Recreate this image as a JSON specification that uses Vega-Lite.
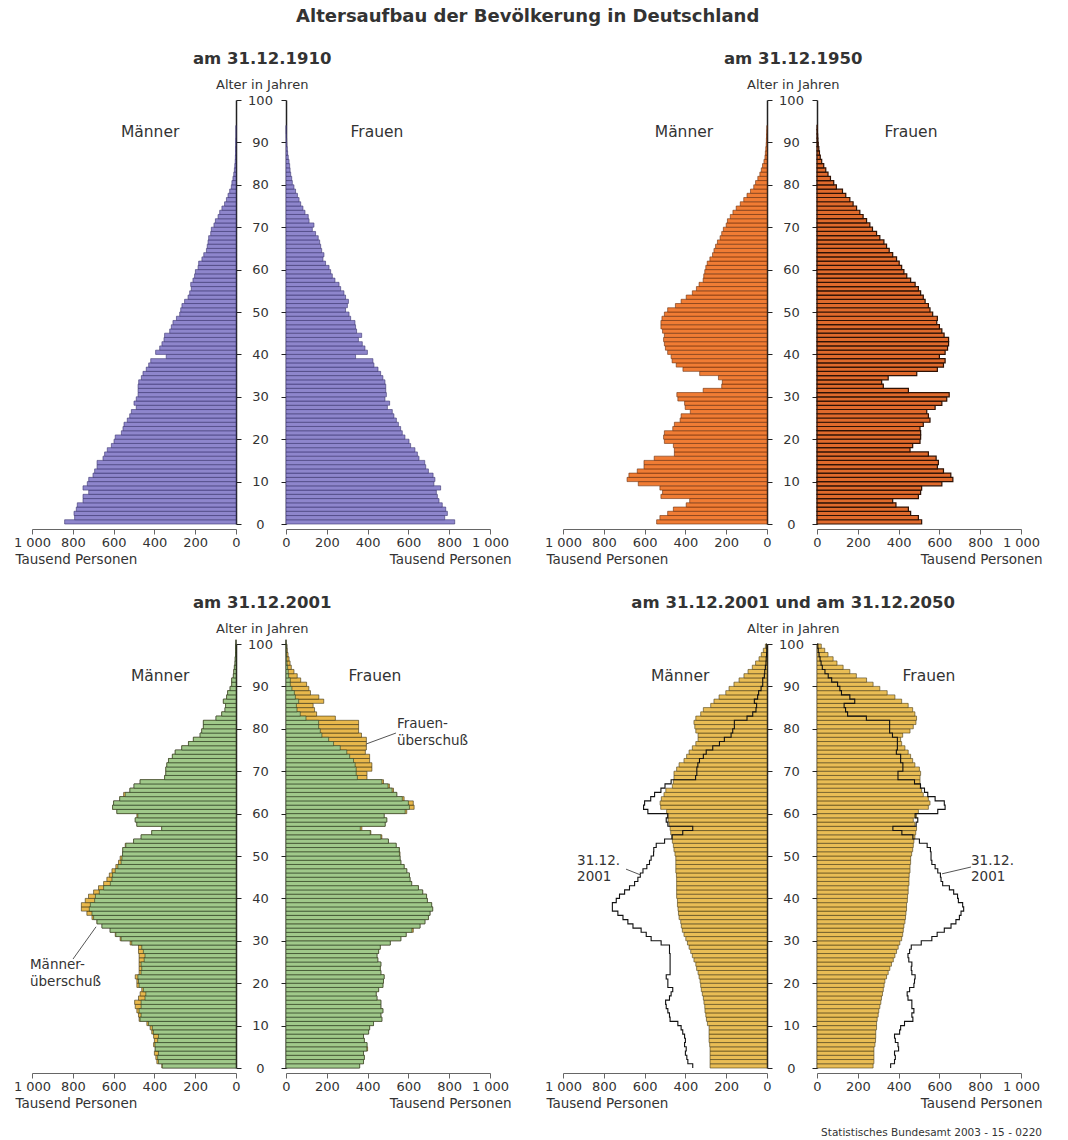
{
"$schema": "https://vega.github.io/schema/vega-lite/v6.json",
"padding": {"left": 13, "top": 7, "right": 5, "bottom": 5},
"title": {"text": "Altersaufbau der Bevölkerung in Deutschland", "fontSize": 18, "fontWeight": "bold", "anchor": "middle", "offset": 25, "color": "#333"},
"datasets": {
"d1910": [{"a":0,"m":840,"f":827},{"a":1,"m":791,"f":778},{"a":2,"m":794,"f":791},{"a":3,"m":783,"f":783},{"a":4,"m":778,"f":766},{"a":5,"m":750,"f":750},{"a":6,"m":750,"f":742},{"a":7,"m":722,"f":737},{"a":8,"m":750,"f":758},{"a":9,"m":729,"f":725},{"a":10,"m":722,"f":730},{"a":11,"m":701,"f":721},{"a":12,"m":693,"f":698},{"a":13,"m":681,"f":685},{"a":14,"m":681,"f":680},{"a":15,"m":652,"f":652},{"a":16,"m":644,"f":644},{"a":17,"m":631,"f":632},{"a":18,"m":611,"f":611},{"a":19,"m":598,"f":603},{"a":20,"m":592,"f":583},{"a":21,"m":562,"f":570},{"a":22,"m":554,"f":562},{"a":23,"m":549,"f":551},{"a":24,"m":533,"f":541},{"a":25,"m":521,"f":529},{"a":26,"m":513,"f":521},{"a":27,"m":489,"f":497},{"a":28,"m":500,"f":508},{"a":29,"m":489,"f":485},{"a":30,"m":480,"f":492},{"a":31,"m":480,"f":489},{"a":32,"m":480,"f":489},{"a":33,"m":477,"f":485},{"a":34,"m":464,"f":475},{"a":35,"m":456,"f":464},{"a":36,"m":440,"f":451},{"a":37,"m":428,"f":431},{"a":38,"m":418,"f":426},{"a":39,"m":342,"f":341},{"a":40,"m":394,"f":399},{"a":41,"m":374,"f":387},{"a":42,"m":363,"f":374},{"a":43,"m":353,"f":355},{"a":44,"m":350,"f":371},{"a":45,"m":325,"f":346},{"a":46,"m":317,"f":341},{"a":47,"m":309,"f":338},{"a":48,"m":292,"f":317},{"a":49,"m":276,"f":309},{"a":50,"m":271,"f":292},{"a":51,"m":265,"f":301},{"a":52,"m":252,"f":306},{"a":53,"m":235,"f":292},{"a":54,"m":227,"f":284},{"a":55,"m":219,"f":268},{"a":56,"m":222,"f":260},{"a":57,"m":211,"f":240},{"a":58,"m":203,"f":227},{"a":59,"m":199,"f":219},{"a":60,"m":186,"f":211},{"a":61,"m":183,"f":194},{"a":62,"m":167,"f":181},{"a":63,"m":158,"f":186},{"a":64,"m":145,"f":175},{"a":65,"m":141,"f":170},{"a":66,"m":137,"f":165},{"a":67,"m":134,"f":158},{"a":68,"m":124,"f":145},{"a":69,"m":121,"f":129},{"a":70,"m":108,"f":137},{"a":71,"m":101,"f":113},{"a":72,"m":88,"f":109},{"a":73,"m":80,"f":93},{"a":74,"m":69,"f":83},{"a":75,"m":56,"f":72},{"a":76,"m":47,"f":64},{"a":77,"m":39,"f":56},{"a":78,"m":31,"f":47},{"a":79,"m":23,"f":39},{"a":80,"m":20,"f":31},{"a":81,"m":15,"f":28},{"a":82,"m":11,"f":23},{"a":83,"m":8,"f":20},{"a":84,"m":6,"f":18},{"a":85,"m":4,"f":15},{"a":86,"m":3,"f":11},{"a":87,"m":2,"f":8},{"a":88,"m":2,"f":6},{"a":89,"m":1,"f":4},{"a":90,"m":1,"f":3},{"a":91,"m":0,"f":2},{"a":92,"m":0,"f":1},{"a":93,"m":0,"f":1}],
"d1950": [{"a":0,"m":541,"f":513},{"a":1,"m":525,"f":497},{"a":2,"m":487,"f":459},{"a":3,"m":459,"f":448},{"a":4,"m":396,"f":387},{"a":5,"m":379,"f":371},{"a":6,"m":520,"f":497},{"a":7,"m":512,"f":508},{"a":8,"m":525,"f":513},{"a":9,"m":631,"f":612},{"a":10,"m":686,"f":666},{"a":11,"m":677,"f":656},{"a":12,"m":636,"f":620},{"a":13,"m":603,"f":590},{"a":14,"m":603,"f":595},{"a":15,"m":553,"f":584},{"a":16,"m":454,"f":546},{"a":17,"m":454,"f":456},{"a":18,"m":459,"f":469},{"a":19,"m":503,"f":505},{"a":20,"m":507,"f":508},{"a":21,"m":503,"f":508},{"a":22,"m":462,"f":505},{"a":23,"m":454,"f":521},{"a":24,"m":426,"f":554},{"a":25,"m":421,"f":546},{"a":26,"m":376,"f":538},{"a":27,"m":401,"f":579},{"a":28,"m":404,"f":612},{"a":29,"m":437,"f":636},{"a":30,"m":442,"f":648},{"a":31,"m":313,"f":448},{"a":32,"m":222,"f":325},{"a":33,"m":219,"f":317},{"a":34,"m":238,"f":349},{"a":35,"m":330,"f":489},{"a":36,"m":412,"f":590},{"a":37,"m":445,"f":620},{"a":38,"m":465,"f":628},{"a":39,"m":470,"f":600},{"a":40,"m":487,"f":628},{"a":41,"m":498,"f":640},{"a":42,"m":503,"f":645},{"a":43,"m":507,"f":645},{"a":44,"m":503,"f":623},{"a":45,"m":512,"f":612},{"a":46,"m":520,"f":600},{"a":47,"m":520,"f":587},{"a":48,"m":515,"f":590},{"a":49,"m":503,"f":567},{"a":50,"m":487,"f":554},{"a":51,"m":449,"f":546},{"a":52,"m":421,"f":530},{"a":53,"m":396,"f":521},{"a":54,"m":366,"f":508},{"a":55,"m":346,"f":497},{"a":56,"m":333,"f":481},{"a":57,"m":313,"f":459},{"a":58,"m":310,"f":440},{"a":59,"m":305,"f":426},{"a":60,"m":300,"f":415},{"a":61,"m":293,"f":403},{"a":62,"m":280,"f":390},{"a":63,"m":267,"f":371},{"a":64,"m":260,"f":354},{"a":65,"m":252,"f":341},{"a":66,"m":243,"f":328},{"a":67,"m":230,"f":308},{"a":68,"m":222,"f":292},{"a":69,"m":214,"f":272},{"a":70,"m":200,"f":259},{"a":71,"m":194,"f":243},{"a":72,"m":180,"f":226},{"a":73,"m":167,"f":210},{"a":74,"m":151,"f":194},{"a":75,"m":131,"f":177},{"a":76,"m":114,"f":161},{"a":77,"m":98,"f":141},{"a":78,"m":81,"f":125},{"a":79,"m":65,"f":95},{"a":80,"m":56,"f":82},{"a":81,"m":45,"f":66},{"a":82,"m":35,"f":54},{"a":83,"m":28,"f":43},{"a":84,"m":22,"f":33},{"a":85,"m":15,"f":23},{"a":86,"m":10,"f":16},{"a":87,"m":8,"f":12},{"a":88,"m":6,"f":9},{"a":89,"m":4,"f":6},{"a":90,"m":3,"f":4},{"a":91,"m":2,"f":3},{"a":92,"m":1,"f":2},{"a":93,"m":0,"f":1}],
"d2001": [{"a":0,"m":364,"f":361},{"a":1,"m":388,"f":380},{"a":2,"m":393,"f":384},{"a":3,"m":400,"f":380},{"a":4,"m":396,"f":400},{"a":5,"m":404,"f":397},{"a":6,"m":400,"f":384},{"a":7,"m":404,"f":380},{"a":8,"m":413,"f":405},{"a":9,"m":421,"f":410},{"a":10,"m":437,"f":429},{"a":11,"m":475,"f":470},{"a":12,"m":478,"f":465},{"a":13,"m":486,"f":475},{"a":14,"m":494,"f":465},{"a":15,"m":497,"f":465},{"a":16,"m":478,"f":446},{"a":17,"m":470,"f":442},{"a":18,"m":462,"f":454},{"a":19,"m":486,"f":475},{"a":20,"m":486,"f":478},{"a":21,"m":494,"f":481},{"a":22,"m":475,"f":465},{"a":23,"m":475,"f":462},{"a":24,"m":475,"f":465},{"a":25,"m":475,"f":450},{"a":26,"m":475,"f":446},{"a":27,"m":478,"f":454},{"a":28,"m":478,"f":462},{"a":29,"m":519,"f":511},{"a":30,"m":568,"f":563},{"a":31,"m":592,"f":589},{"a":32,"m":617,"f":624},{"a":33,"m":657,"f":657},{"a":34,"m":682,"f":681},{"a":35,"m":706,"f":698},{"a":36,"m":731,"f":706},{"a":37,"m":758,"f":719},{"a":38,"m":758,"f":714},{"a":39,"m":739,"f":693},{"a":40,"m":723,"f":689},{"a":41,"m":698,"f":670},{"a":42,"m":674,"f":649},{"a":43,"m":649,"f":616},{"a":44,"m":633,"f":608},{"a":45,"m":621,"f":605},{"a":46,"m":608,"f":592},{"a":47,"m":589,"f":579},{"a":48,"m":576,"f":563},{"a":49,"m":568,"f":559},{"a":50,"m":556,"f":559},{"a":51,"m":555,"f":556},{"a":52,"m":543,"f":540},{"a":53,"m":502,"f":502},{"a":54,"m":465,"f":470},{"a":55,"m":413,"f":416},{"a":56,"m":364,"f":372},{"a":57,"m":486,"f":486},{"a":58,"m":494,"f":494},{"a":59,"m":486,"f":481},{"a":60,"m":584,"f":592},{"a":61,"m":605,"f":628},{"a":62,"m":600,"f":624},{"a":63,"m":570,"f":579},{"a":64,"m":551,"f":543},{"a":65,"m":520,"f":527},{"a":66,"m":500,"f":507},{"a":67,"m":470,"f":478},{"a":68,"m":350,"f":397},{"a":69,"m":344,"f":397},{"a":70,"m":344,"f":421},{"a":71,"m":339,"f":421},{"a":72,"m":331,"f":410},{"a":73,"m":312,"f":410},{"a":74,"m":298,"f":389},{"a":75,"m":266,"f":394},{"a":76,"m":233,"f":394},{"a":77,"m":209,"f":394},{"a":78,"m":176,"f":370},{"a":79,"m":168,"f":356},{"a":80,"m":160,"f":356},{"a":81,"m":160,"f":356},{"a":82,"m":98,"f":242},{"a":83,"m":70,"f":150},{"a":84,"m":54,"f":140},{"a":85,"m":51,"f":133},{"a":86,"m":62,"f":185},{"a":87,"m":46,"f":161},{"a":88,"m":41,"f":120},{"a":89,"m":29,"f":112},{"a":90,"m":21,"f":101},{"a":91,"m":21,"f":72},{"a":92,"m":13,"f":55},{"a":93,"m":11,"f":39},{"a":94,"m":8,"f":26},{"a":95,"m":5,"f":20},{"a":96,"m":4,"f":15},{"a":97,"m":2,"f":10},{"a":98,"m":1,"f":6},{"a":99,"m":1,"f":4},{"a":100,"m":0,"f":0}],
"d2050": [{"a":0,"m":279,"f":275},{"a":1,"m":279,"f":279},{"a":2,"m":279,"f":279},{"a":3,"m":279,"f":279},{"a":4,"m":279,"f":279},{"a":5,"m":281,"f":284},{"a":6,"m":284,"f":287},{"a":7,"m":284,"f":288},{"a":8,"m":284,"f":288},{"a":9,"m":284,"f":292},{"a":10,"m":292,"f":292},{"a":11,"m":297,"f":295},{"a":12,"m":300,"f":300},{"a":13,"m":304,"f":303},{"a":14,"m":305,"f":308},{"a":15,"m":309,"f":313},{"a":16,"m":312,"f":316},{"a":17,"m":317,"f":321},{"a":18,"m":322,"f":325},{"a":19,"m":325,"f":329},{"a":20,"m":328,"f":333},{"a":21,"m":333,"f":341},{"a":22,"m":338,"f":349},{"a":23,"m":345,"f":357},{"a":24,"m":349,"f":365},{"a":25,"m":358,"f":374},{"a":26,"m":366,"f":382},{"a":27,"m":374,"f":390},{"a":28,"m":382,"f":398},{"a":29,"m":390,"f":406},{"a":30,"m":398,"f":415},{"a":31,"m":407,"f":420},{"a":32,"m":415,"f":423},{"a":33,"m":420,"f":426},{"a":34,"m":423,"f":431},{"a":35,"m":431,"f":434},{"a":36,"m":434,"f":436},{"a":37,"m":436,"f":439},{"a":38,"m":439,"f":439},{"a":39,"m":439,"f":443},{"a":40,"m":443,"f":444},{"a":41,"m":443,"f":447},{"a":42,"m":443,"f":447},{"a":43,"m":443,"f":451},{"a":44,"m":443,"f":451},{"a":45,"m":444,"f":452},{"a":46,"m":447,"f":456},{"a":47,"m":447,"f":456},{"a":48,"m":447,"f":459},{"a":49,"m":447,"f":459},{"a":50,"m":451,"f":464},{"a":51,"m":456,"f":469},{"a":52,"m":459,"f":472},{"a":53,"m":464,"f":475},{"a":54,"m":467,"f":480},{"a":55,"m":472,"f":484},{"a":56,"m":475,"f":488},{"a":57,"m":480,"f":480},{"a":58,"m":485,"f":472},{"a":59,"m":488,"f":488},{"a":60,"m":492,"f":497},{"a":61,"m":521,"f":546},{"a":62,"m":524,"f":554},{"a":63,"m":518,"f":546},{"a":64,"m":505,"f":521},{"a":65,"m":496,"f":513},{"a":66,"m":464,"f":508},{"a":67,"m":459,"f":505},{"a":68,"m":456,"f":505},{"a":69,"m":456,"f":508},{"a":70,"m":443,"f":502},{"a":71,"m":431,"f":480},{"a":72,"m":407,"f":469},{"a":73,"m":394,"f":459},{"a":74,"m":382,"f":447},{"a":75,"m":366,"f":431},{"a":76,"m":349,"f":415},{"a":77,"m":338,"f":410},{"a":78,"m":338,"f":420},{"a":79,"m":349,"f":456},{"a":80,"m":354,"f":472},{"a":81,"m":358,"f":485},{"a":82,"m":349,"f":488},{"a":83,"m":325,"f":480},{"a":84,"m":312,"f":469},{"a":85,"m":276,"f":447},{"a":86,"m":260,"f":415},{"a":87,"m":235,"f":382},{"a":88,"m":202,"f":344},{"a":89,"m":186,"f":308},{"a":90,"m":162,"f":275},{"a":91,"m":137,"f":243},{"a":92,"m":113,"f":193},{"a":93,"m":93,"f":161},{"a":94,"m":72,"f":128},{"a":95,"m":56,"f":98},{"a":96,"m":39,"f":79},{"a":97,"m":28,"f":54},{"a":98,"m":18,"f":38},{"a":99,"m":8,"f":21}]
},
"spacing": 28,
"vconcat": [
{"hconcat": [
  {"title": {"text": "am 31.12.1910", "subtitle": "Alter in Jahren", "fontSize": 16.5, "fontWeight": "bold", "subtitleFontSize": 13, "subtitleColor": "#333", "subtitlePadding": 12, "offset": 2, "anchor": "middle", "color": "#333"},
   "spacing": 50, "bounds": "flush",
   "hconcat": [
    {"width": 204, "height": 424, "layer": [
      {"data": {"name": "d1910"}, "transform": [{"calculate": "datum.a+1", "as": "a1"}],
       "mark": {"type": "bar", "fill": "#8e86cc", "stroke": "#3b3470", "strokeWidth": 0.6},
       "encoding": {
        "x": {"field": "m", "type": "quantitative", "scale": {"domain": [0, 1000], "reverse": true, "nice": false}, "axis": {"orient": "bottom", "values": [0,200,400,600,800,1000], "labelExpr": "datum.value == 1000 ? '1 000' : datum.label", "labelOverlap": false, "labelFlush": false, "title": "Tausend Personen", "titleAlign": "left", "titleX": -17, "offset": 5, "tickSize": 5, "domainColor": "#666", "tickColor": "#666", "labelPadding": 2, "titlePadding": 3}},
        "x2": {"datum": 0},
        "y": {"field": "a", "type": "quantitative", "scale": {"domain": [0, 100], "nice": false}, "axis": {"orient": "right", "values": [0,5,10,15,20,25,30,35,40,45,50,55,60,65,70,75,80,85,90,95,100], "labelOverlap": false, "labelFlush": false, "title": null, "labelAlign": "center", "labelPadding": 19, "tickSize": 5, "domainWidth": 1.5}},
        "y2": {"field": "a1"}}},
      {"data": {"values": [{}]}, "mark": {"type": "text", "text": "Männer", "fontSize": 15.5},
       "encoding": {"x": {"datum": 421, "type": "quantitative"}, "y": {"datum": 92.5, "type": "quantitative"}}}
    ]},
    {"width": 204, "height": 424, "layer": [
      {"data": {"name": "d1910"}, "transform": [{"calculate": "datum.a+1", "as": "a1"}],
       "mark": {"type": "bar", "fill": "#8e86cc", "stroke": "#3b3470", "strokeWidth": 0.6},
       "encoding": {
        "x": {"field": "f", "type": "quantitative", "scale": {"domain": [0, 1000], "nice": false}, "axis": {"orient": "bottom", "values": [0,200,400,600,800,1000], "labelExpr": "datum.value == 1000 ? '1 000' : datum.label", "labelOverlap": false, "labelFlush": false, "title": "Tausend Personen", "titleAlign": "right", "titleX": 225, "offset": 5, "tickSize": 5, "domainColor": "#666", "tickColor": "#666", "labelPadding": 2, "titlePadding": 3}},
        "x2": {"datum": 0},
        "y": {"field": "a", "type": "quantitative", "scale": {"domain": [0, 100], "nice": false}, "axis": {"orient": "left", "values": [0,5,10,15,20,25,30,35,40,45,50,55,60,65,70,75,80,85,90,95,100], "title": null, "labels": false, "tickSize": 5, "domainWidth": 1.5}},
        "y2": {"field": "a1"}}},
      {"data": {"values": [{}]}, "mark": {"type": "text", "text": "Frauen", "fontSize": 15.5},
       "encoding": {"x": {"datum": 446, "type": "quantitative"}, "y": {"datum": 92.5, "type": "quantitative"}}}
    ]}
   ]},
  {"title": {"text": "am 31.12.1950", "subtitle": "Alter in Jahren", "fontSize": 16.5, "fontWeight": "bold", "subtitleFontSize": 13, "subtitleColor": "#333", "subtitlePadding": 12, "offset": 2, "anchor": "middle", "color": "#333"},
   "spacing": 50, "bounds": "flush",
   "hconcat": [
    {"width": 204, "height": 424, "layer": [
      {"data": {"name": "d1950"}, "transform": [{"calculate": "datum.a+1", "as": "a1"}],
       "mark": {"type": "bar", "fill": "#f07c34", "stroke": "#6a2e0c", "strokeWidth": 0.6},
       "encoding": {
        "x": {"field": "m", "type": "quantitative", "scale": {"domain": [0, 1000], "reverse": true, "nice": false}, "axis": {"orient": "bottom", "values": [0,200,400,600,800,1000], "labelExpr": "datum.value == 1000 ? '1 000' : datum.label", "labelOverlap": false, "labelFlush": false, "title": "Tausend Personen", "titleAlign": "left", "titleX": -17, "offset": 5, "tickSize": 5, "domainColor": "#666", "tickColor": "#666", "labelPadding": 2, "titlePadding": 3}},
        "x2": {"datum": 0},
        "y": {"field": "a", "type": "quantitative", "scale": {"domain": [0, 100], "nice": false}, "axis": {"orient": "right", "values": [0,5,10,15,20,25,30,35,40,45,50,55,60,65,70,75,80,85,90,95,100], "labelOverlap": false, "labelFlush": false, "title": null, "labelAlign": "center", "labelPadding": 19, "tickSize": 5, "domainWidth": 1.5}},
        "y2": {"field": "a1"}}},
      {"data": {"values": [{}]}, "mark": {"type": "text", "text": "Männer", "fontSize": 15.5},
       "encoding": {"x": {"datum": 407, "type": "quantitative"}, "y": {"datum": 92.5, "type": "quantitative"}}}
    ]},
    {"width": 204, "height": 424, "layer": [
      {"data": {"name": "d1950"}, "transform": [{"calculate": "datum.a+1", "as": "a1"}],
       "mark": {"type": "bar", "fill": "#e06a2c", "stroke": "#2e1205", "strokeWidth": 1.2},
       "encoding": {
        "x": {"field": "f", "type": "quantitative", "scale": {"domain": [0, 1000], "nice": false}, "axis": {"orient": "bottom", "values": [0,200,400,600,800,1000], "labelExpr": "datum.value == 1000 ? '1 000' : datum.label", "labelOverlap": false, "labelFlush": false, "title": "Tausend Personen", "titleAlign": "right", "titleX": 225, "offset": 5, "tickSize": 5, "domainColor": "#666", "tickColor": "#666", "labelPadding": 2, "titlePadding": 3}},
        "x2": {"datum": 0},
        "y": {"field": "a", "type": "quantitative", "scale": {"domain": [0, 100], "nice": false}, "axis": {"orient": "left", "values": [0,5,10,15,20,25,30,35,40,45,50,55,60,65,70,75,80,85,90,95,100], "title": null, "labels": false, "tickSize": 5, "domainWidth": 1.5}},
        "y2": {"field": "a1"}}},
      {"data": {"values": [{}]}, "mark": {"type": "text", "text": "Frauen", "fontSize": 15.5},
       "encoding": {"x": {"datum": 461, "type": "quantitative"}, "y": {"datum": 92.5, "type": "quantitative"}}}
    ]}
   ]}
 ], "spacing": 33},
{"title": {"text": "Statistisches Bundesamt 2003 - 15 - 0220", "orient": "bottom", "anchor": "end", "fontSize": 10.5, "fontWeight": "normal", "offset": 18, "color": "#333"},
 "hconcat": [
  {"title": {"text": "am 31.12.2001", "subtitle": "Alter in Jahren", "fontSize": 16.5, "fontWeight": "bold", "subtitleFontSize": 13, "subtitleColor": "#333", "subtitlePadding": 12, "offset": 2, "anchor": "middle", "color": "#333"},
   "spacing": 50, "bounds": "flush",
   "hconcat": [
    {"width": 204, "height": 424, "layer": [
      {"data": {"name": "d2001"}, "transform": [{"calculate": "datum.a+1", "as": "a1"}],
       "mark": {"type": "bar", "fill": "#e8b84c", "stroke": "#3a3010", "strokeWidth": 0.6},
       "encoding": {
        "x": {"field": "m", "type": "quantitative", "scale": {"domain": [0, 1000], "reverse": true, "nice": false}, "axis": {"orient": "bottom", "values": [0,200,400,600,800,1000], "labelExpr": "datum.value == 1000 ? '1 000' : datum.label", "labelOverlap": false, "labelFlush": false, "title": "Tausend Personen", "titleAlign": "left", "titleX": -17, "offset": 5, "tickSize": 5, "domainColor": "#666", "tickColor": "#666", "labelPadding": 2, "titlePadding": 3}},
        "x2": {"datum": 0},
        "y": {"field": "a", "type": "quantitative", "scale": {"domain": [0, 100], "nice": false}, "axis": {"orient": "right", "values": [0,5,10,15,20,25,30,35,40,45,50,55,60,65,70,75,80,85,90,95,100], "labelOverlap": false, "labelFlush": false, "title": null, "labelAlign": "center", "labelPadding": 19, "tickSize": 5, "domainWidth": 1.5}},
        "y2": {"field": "a1"}}},
      {"data": {"name": "d2001"}, "transform": [{"calculate": "datum.a+1", "as": "a1"}, {"calculate": "min(datum.m, datum.f)", "as": "mn"}],
       "mark": {"type": "bar", "fill": "#a0c98a", "stroke": "#2b3a22", "strokeWidth": 0.6},
       "encoding": {"x": {"field": "mn", "type": "quantitative"}, "x2": {"datum": 0}, "y": {"field": "a", "type": "quantitative"}, "y2": {"field": "a1"}}},
      {"data": {"values": [{}]}, "mark": {"type": "text", "text": "Männer", "fontSize": 15.5},
       "encoding": {"x": {"datum": 372, "type": "quantitative"}, "y": {"datum": 92.4, "type": "quantitative"}}},
      {"data": {"values": [{}]}, "mark": {"type": "text", "text": ["Männer-", "überschuß"], "fontSize": 13.5, "align": "left", "baseline": "top", "lineHeight": 17},
       "encoding": {"x": {"datum": 1010, "type": "quantitative"}, "y": {"datum": 25.9, "type": "quantitative"}}},
      {"data": {"values": [{}]}, "mark": {"type": "rule", "color": "#555", "strokeWidth": 1},
       "encoding": {"x": {"datum": 686, "type": "quantitative"}, "x2": {"datum": 799}, "y": {"datum": 33.3, "type": "quantitative"}, "y2": {"datum": 25.7}}}
    ]},
    {"width": 204, "height": 424, "layer": [
      {"data": {"name": "d2001"}, "transform": [{"calculate": "datum.a+1", "as": "a1"}],
       "mark": {"type": "bar", "fill": "#e8b84c", "stroke": "#3a3010", "strokeWidth": 0.6},
       "encoding": {
        "x": {"field": "f", "type": "quantitative", "scale": {"domain": [0, 1000], "nice": false}, "axis": {"orient": "bottom", "values": [0,200,400,600,800,1000], "labelExpr": "datum.value == 1000 ? '1 000' : datum.label", "labelOverlap": false, "labelFlush": false, "title": "Tausend Personen", "titleAlign": "right", "titleX": 225, "offset": 5, "tickSize": 5, "domainColor": "#666", "tickColor": "#666", "labelPadding": 2, "titlePadding": 3}},
        "x2": {"datum": 0},
        "y": {"field": "a", "type": "quantitative", "scale": {"domain": [0, 100], "nice": false}, "axis": {"orient": "left", "values": [0,5,10,15,20,25,30,35,40,45,50,55,60,65,70,75,80,85,90,95,100], "title": null, "labels": false, "tickSize": 5, "domainWidth": 1.5}},
        "y2": {"field": "a1"}}},
      {"data": {"name": "d2001"}, "transform": [{"calculate": "datum.a+1", "as": "a1"}, {"calculate": "min(datum.m, datum.f)", "as": "mn"}],
       "mark": {"type": "bar", "fill": "#a0c98a", "stroke": "#2b3a22", "strokeWidth": 0.6},
       "encoding": {"x": {"field": "mn", "type": "quantitative"}, "x2": {"datum": 0}, "y": {"field": "a", "type": "quantitative"}, "y2": {"field": "a1"}}},
      {"data": {"values": [{}]}, "mark": {"type": "text", "text": "Frauen", "fontSize": 15.5},
       "encoding": {"x": {"datum": 436, "type": "quantitative"}, "y": {"datum": 92.4, "type": "quantitative"}}},
      {"data": {"values": [{}]}, "mark": {"type": "text", "text": ["Frauen-", "überschuß"], "fontSize": 13.5, "align": "left", "baseline": "top", "lineHeight": 17},
       "encoding": {"x": {"datum": 544, "type": "quantitative"}, "y": {"datum": 82.8, "type": "quantitative"}}},
      {"data": {"values": [{}]}, "mark": {"type": "rule", "color": "#555", "strokeWidth": 1},
       "encoding": {"x": {"datum": 392, "type": "quantitative"}, "x2": {"datum": 539}, "y": {"datum": 76.4, "type": "quantitative"}, "y2": {"datum": 79.0}}}
    ]}
   ]},
  {"title": {"text": "am 31.12.2001 und am 31.12.2050", "subtitle": "Alter in Jahren", "fontSize": 16.5, "fontWeight": "bold", "subtitleFontSize": 13, "subtitleColor": "#333", "subtitlePadding": 12, "offset": 2, "anchor": "middle", "color": "#333"},
   "spacing": 50, "bounds": "flush",
   "hconcat": [
    {"width": 204, "height": 424, "layer": [
      {"data": {"name": "d2050"}, "transform": [{"calculate": "datum.a+1", "as": "a1"}],
       "mark": {"type": "bar", "fill": "#e9bd55", "stroke": "#4a3c15", "strokeWidth": 0.6},
       "encoding": {
        "x": {"field": "m", "type": "quantitative", "scale": {"domain": [0, 1000], "reverse": true, "nice": false}, "axis": {"orient": "bottom", "values": [0,200,400,600,800,1000], "labelExpr": "datum.value == 1000 ? '1 000' : datum.label", "labelOverlap": false, "labelFlush": false, "title": "Tausend Personen", "titleAlign": "left", "titleX": -17, "offset": 5, "tickSize": 5, "domainColor": "#666", "tickColor": "#666", "labelPadding": 2, "titlePadding": 3}},
        "x2": {"datum": 0},
        "y": {"field": "a", "type": "quantitative", "scale": {"domain": [0, 100], "nice": false}, "axis": {"orient": "right", "values": [0,5,10,15,20,25,30,35,40,45,50,55,60,65,70,75,80,85,90,95,100], "labelOverlap": false, "labelFlush": false, "title": null, "labelAlign": "center", "labelPadding": 19, "tickSize": 5, "domainWidth": 1.5}},
        "y2": {"field": "a1"}}},
      {"data": {"name": "d2001"}, "mark": {"type": "line", "interpolate": "step-before", "color": "#111", "strokeWidth": 1.1},
       "encoding": {"x": {"field": "m", "type": "quantitative"}, "y": {"field": "a", "type": "quantitative"}, "order": {"field": "a", "type": "quantitative"}}},
      {"data": {"values": [{}]}, "mark": {"type": "text", "text": "Männer", "fontSize": 15.5},
       "encoding": {"x": {"datum": 426, "type": "quantitative"}, "y": {"datum": 92.4, "type": "quantitative"}}},
      {"data": {"values": [{}]}, "mark": {"type": "text", "text": ["31.12.", "2001"], "fontSize": 13.5, "align": "left", "baseline": "top", "lineHeight": 16},
       "encoding": {"x": {"datum": 931, "type": "quantitative"}, "y": {"datum": 50.5, "type": "quantitative"}}},
      {"data": {"values": [{}]}, "mark": {"type": "rule", "color": "#555", "strokeWidth": 1},
       "encoding": {"x": {"datum": 691, "type": "quantitative"}, "x2": {"datum": 618}, "y": {"datum": 46.9, "type": "quantitative"}, "y2": {"datum": 45.5}}}
    ]},
    {"width": 204, "height": 424, "layer": [
      {"data": {"name": "d2050"}, "transform": [{"calculate": "datum.a+1", "as": "a1"}],
       "mark": {"type": "bar", "fill": "#e9bd55", "stroke": "#4a3c15", "strokeWidth": 0.6},
       "encoding": {
        "x": {"field": "f", "type": "quantitative", "scale": {"domain": [0, 1000], "nice": false}, "axis": {"orient": "bottom", "values": [0,200,400,600,800,1000], "labelExpr": "datum.value == 1000 ? '1 000' : datum.label", "labelOverlap": false, "labelFlush": false, "title": "Tausend Personen", "titleAlign": "right", "titleX": 225, "offset": 5, "tickSize": 5, "domainColor": "#666", "tickColor": "#666", "labelPadding": 2, "titlePadding": 3}},
        "x2": {"datum": 0},
        "y": {"field": "a", "type": "quantitative", "scale": {"domain": [0, 100], "nice": false}, "axis": {"orient": "left", "values": [0,5,10,15,20,25,30,35,40,45,50,55,60,65,70,75,80,85,90,95,100], "title": null, "labels": false, "tickSize": 5, "domainWidth": 1.5}},
        "y2": {"field": "a1"}}},
      {"data": {"name": "d2001"}, "mark": {"type": "line", "interpolate": "step-before", "color": "#111", "strokeWidth": 1.1},
       "encoding": {"x": {"field": "f", "type": "quantitative"}, "y": {"field": "a", "type": "quantitative"}, "order": {"field": "a", "type": "quantitative"}}},
      {"data": {"values": [{}]}, "mark": {"type": "text", "text": "Frauen", "fontSize": 15.5},
       "encoding": {"x": {"datum": 549, "type": "quantitative"}, "y": {"datum": 92.4, "type": "quantitative"}}},
      {"data": {"values": [{}]}, "mark": {"type": "text", "text": ["31.12.", "2001"], "fontSize": 13.5, "align": "left", "baseline": "top", "lineHeight": 16},
       "encoding": {"x": {"datum": 755, "type": "quantitative"}, "y": {"datum": 50.5, "type": "quantitative"}}},
      {"data": {"values": [{}]}, "mark": {"type": "rule", "color": "#555", "strokeWidth": 1},
       "encoding": {"x": {"datum": 613, "type": "quantitative"}, "x2": {"datum": 755}, "y": {"datum": 45.8, "type": "quantitative"}, "y2": {"datum": 47.4}}}
    ]}
   ]}
 ], "spacing": 33}
],
"config": {
 "font": "DejaVu Sans",
 "view": {"stroke": null},
 "axis": {"grid": false, "labelFont": "DejaVu Sans", "labelColor": "#333", "labelFontSize": 13, "titleFont": "DejaVu Sans", "titleFontWeight": "normal", "titleColor": "#333", "titleFontSize": 13.5, "domainColor": "#222", "tickColor": "#222"},
 "text": {"font": "DejaVu Sans", "color": "#333"}
}
}
